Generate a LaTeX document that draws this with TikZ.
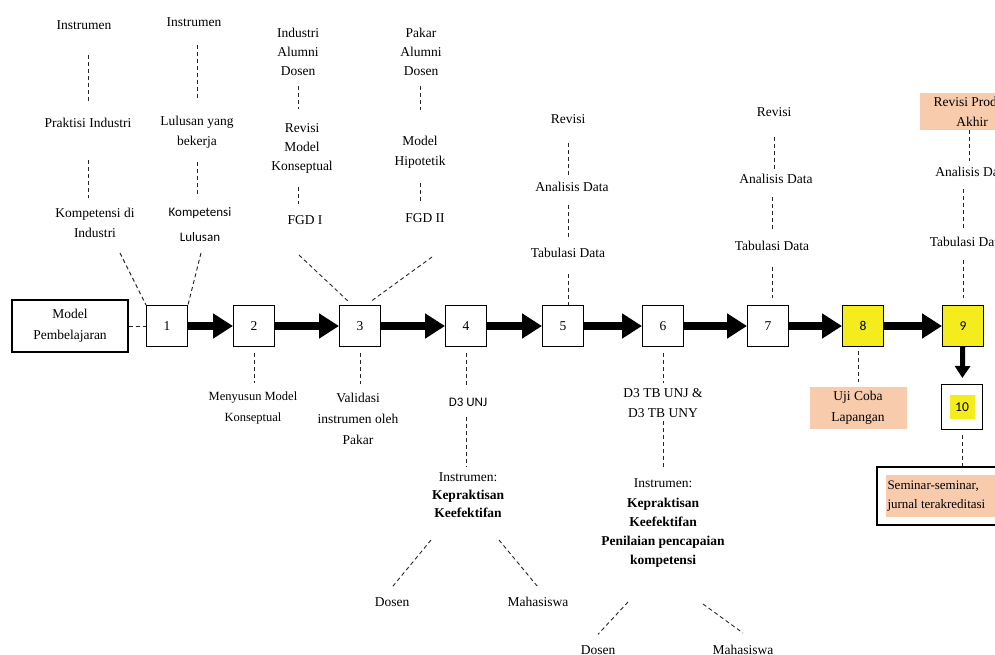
\documentclass[tikz,border=0pt]{standalone}
\usepackage{fontspec}
\setmainfont{Liberation Serif}
\newfontfamily\sansf{Carlito}
\usetikzlibrary{arrows.meta,calc}
\definecolor{peach}{RGB}{248,203,173}
\definecolor{yel}{RGB}{244,236,28}
\begin{document}
\begin{tikzpicture}[x=1pt,y=-1pt,
  txt/.style={font=\fontsize{13.5}{19}\selectfont, align=center, inner sep=1pt},
  stxt/.style={font=\sansf\fontsize{13}{25}\selectfont, align=center, inner sep=1pt},
  bx/.style={draw, line width=1pt, minimum width=41pt, minimum height=41pt, inner sep=0pt, font=\fontsize{13.5}{16}\selectfont},
  dl/.style={draw=black!85, line width=0.9pt, dash pattern=on 4pt off 3pt},
  bigarr/.style={line width=8pt, -{Triangle[length=20pt,width=24pt]}},
  smallarr/.style={line width=5pt, -{Triangle[length=12pt,width=15pt]}}]
\useasboundingbox (0,0) rectangle (995,655);
\clip (0,0) rectangle (995,655);

% main row
\node[draw, line width=1.1pt, minimum width=116pt, minimum height=52pt, txt, font=\fontsize{13.5}{21}\selectfont] (mp) at (70,326) {Model\\Pembelajaran};
\node[bx] (b1) at (167,326) {1};
\node[bx] (b2) at (254,326) {2};
\node[bx] (b3) at (360,326) {3};
\node[bx] (b4) at (466,326) {4};
\node[bx] (b5) at (563,326) {5};
\node[bx] (b6) at (663,326) {6};
\node[bx] (b7) at (768,326) {7};
\node[bx, fill=yel, font=\sansf\fontsize{13.5}{16}\selectfont] (b8) at (863,326) {8};
\node[bx, fill=yel, font=\sansf\fontsize{13.5}{16}\selectfont] (b9) at (963,326) {9};
\node[bx, minimum height=45pt, font=\sansf\fontsize{13.5}{16}\selectfont] (b10) at (962,407) {\setlength{\fboxsep}{0pt}\colorbox{yel}{\parbox[c][24pt][c]{25pt}{\centering 10}}};

\draw[dl] (mp) -- (b1);
\draw[bigarr] (b1) -- (b2);
\draw[bigarr] (b2) -- (b3);
\draw[bigarr] (b3) -- (b4);
\draw[bigarr] (b4) -- (b5);
\draw[bigarr] (b5) -- (b6);
\draw[bigarr] (b6) -- (b7);
\draw[bigarr] (b7) -- (b8);
\draw[bigarr] (b8) -- (b9);
\draw[smallarr, shorten >=6pt] (b9) -- (b10);

% column A
\node[txt] (A1) at (84,25) {Instrumen};
\node[txt] (A2) at (88,123) {Praktisi Industri};
\node[txt, font=\fontsize{13.5}{20}\selectfont] (A3) at (95,223) {Kompetensi di\\Industri};
\coordinate (A3end) at (120,253);
\draw[dl, shorten <=24pt, shorten >=14pt] (A2.north |- A1.south) -- (A2.north);
\draw[dl, shorten <=31pt, shorten >=9pt] (A2.south) -- (A2.south |- A3.north);
\draw[dl] (A3end) -- (b1.north west);

% column B
\node[txt] (B1) at (194,22) {Instrumen};
\node[txt, font=\fontsize{13.5}{20}\selectfont] (B2) at (197,132) {Lulusan yang\\bekerja};
\node[stxt] (B3) at (200,224.5) {Kompetensi\\Lulusan};
\coordinate (B3end) at (201,253);
\draw[dl, shorten <=17pt, shorten >=15pt] (B2.north |- B1.south) -- (B2.north);
\draw[dl, shorten <=13pt, shorten >=10pt] (B2.south) -- (B2.south |- B3.north);
\draw[dl] (B3end) -- (b1.north east);

% column C
\node[txt] (C1) at (298,51.5) {Industri\\Alumni\\Dosen};
\node[txt] (C2) at (302,148.5) {Revisi\\Model\\Konseptual};
\node[txt] (C3) at (305,220) {FGD I};
\coordinate (C3end) at (299,255);
\draw[dl, shorten <=10pt, shorten >=13pt] (C1.south) -- (C1.south |- C2.north);
\draw[dl, shorten <=12pt, shorten >=10pt] (C1.south |- C2.south) -- (C1.south |- C3.north);
\draw[dl] (C3end) -- ([xshift=10pt,yshift=3pt]b3.north west);

% column D
\node[txt] (D1) at (421,51.5) {Pakar\\Alumni\\Dosen};
\node[txt, font=\fontsize{13.5}{20}\selectfont] (D2) at (420,152) {Model\\Hipotetik};
\node[txt] (D3) at (425,218) {FGD II};
\coordinate (D3end) at (432,257);
\draw[dl, shorten <=10pt, shorten >=25pt] (D2.north |- D1.south) -- (D2.north);
\draw[dl, shorten <=14pt, shorten >=8pt] (D2.south) -- (D2.south |- D3.north);
\draw[dl] (D3end) -- ([xshift=-11pt,yshift=3pt]b3.north east);

% column E
\node[txt] (E1) at (568,119) {Revisi};
\node[txt] (E2) at (572,187) {Analisis Data};
\node[txt] (E3) at (568,253) {Tabulasi Data};
\draw[dl, shorten <=18pt, shorten >=5pt] (E1.south) -- (E1.south |- E2.north);
\draw[dl, shorten <=12pt, shorten >=9pt] (E3.north |- E2.south) -- (E3.north);
\draw[dl, shorten <=15pt] (E3.south) -- (E3.south |- b5.north);

% column F
\node[txt] (F1) at (774,112) {Revisi};
\node[txt] (F2) at (776,179) {Analisis Data};
\node[txt] (F3) at (772,246) {Tabulasi Data};
\draw[dl, shorten <=19pt, shorten >=4pt] (F1.south) -- (F1.south |- F2.north);
\draw[dl, shorten <=12pt, shorten >=9pt] (F3.north |- F2.south) -- (F3.north);
\draw[dl, shorten <=15pt, shorten >=7pt] (F3.south) -- (F3.south |- b7.north);

% column G
\node[txt, fill=peach, inner sep=0pt, minimum width=105pt, minimum height=37pt, font=\fontsize{13.5}{20}\selectfont] (G1) at (972,111.5) {Revisi Produk\\Akhir};
\node[txt] (G2) at (972,172) {Analisis Data};
\node[txt] (G3) at (967,242) {Tabulasi Data};
\draw[dl, shorten >=5pt] ([xshift=-3pt]G1.south) -- ([xshift=-3pt]G1.south |- G2.north);
\draw[dl, shorten <=11pt, shorten >=8pt] (b9.north |- G2.south) -- (b9.north |- G3.north);
\draw[dl, shorten <=12pt, shorten >=7pt] (b9.north |- G3.south) -- (b9.north);

% below box 2 and 3
\node[txt, font=\fontsize{12.5}{21}\selectfont] (H1) at (253,407.5) {Menyusun Model\\Konseptual};
\draw[dl, shorten <=6pt, shorten >=7pt] (b2.south) -- (b2.south |- H1.north);
\node[txt, font=\fontsize{13.5}{21}\selectfont] (I1) at (358,419) {Validasi\\instrumen oleh\\Pakar};
\draw[dl, shorten <=6pt, shorten >=8pt] (b3.south) -- (b3.south |- I1.north);

% below box 4
\node[stxt] (J1) at (468,402) {D3 UNJ};
\node[txt, font=\fontsize{13.5}{18}\selectfont] (J2) at (468,495) {Instrumen:\\\textbf{Kepraktisan}\\\textbf{Keefektifan}};
\node[txt] (J3) at (392,602) {Dosen};
\node[txt] (J4) at (538,602) {Mahasiswa};
\coordinate (J2l) at (431,540);
\coordinate (J2r) at (499,540);
\draw[dl, shorten <=6pt, shorten >=12pt] (b4.south) -- (b4.south |- J1.north);
\draw[dl, shorten <=10pt, shorten >=4pt] (b4.south |- J1.south) -- (b4.south |- J2.north);
\draw[dl] (J2l) -- ([yshift=9pt]J3.north);
\draw[dl] (J2r) -- ([yshift=9pt]J4.north);

% below box 6
\node[txt, font=\fontsize{13.5}{20}\selectfont] (K1) at (663,403) {D3 TB UNJ \&\\D3 TB UNY};
\node[txt, font=\fontsize{13.5}{19.25}\selectfont] (K2) at (663,523.5) {Instrumen:\\\textbf{Kepraktisan}\\\textbf{Keefektifan}\\\textbf{Penilaian pencapaian}\\\textbf{kompetensi}};
\node[txt] (K3) at (598,650) {Dosen};
\node[txt] (K4) at (743,650) {Mahasiswa};
\coordinate (K2l) at (628,602);
\coordinate (K2r) at (703,604);
\draw[dl, shorten <=6pt, shorten >=4pt] (b6.south) -- (K1.north);
\draw[dl, shorten <=2pt, shorten >=11pt] (K1.south) -- (K2.north);
\draw[dl] (K2l) -- ([yshift=10pt]K3.north);
\draw[dl] (K2r) -- ([yshift=11pt]K4.north);

% below box 8
\node[txt, fill=peach, inner sep=0pt, minimum width=97pt, minimum height=42pt, font=\fontsize{13.5}{21}\selectfont] (L1) at (858,408) {Uji Coba\\Lapangan};
\draw[dl, shorten <=4pt, shorten >=5pt] (L1.north |- b8.south) -- (L1.north);

% below box 10
\node[draw, line width=1.1pt, minimum width=123pt, minimum height=58pt, inner sep=0pt] (M1) at (938.5,496) {\hspace*{6pt}\setlength{\fboxsep}{0pt}\colorbox{peach}{\parbox[c][42pt][c]{112pt}{\raggedright\leftskip=2pt\fontsize{13}{19}\selectfont Seminar-seminar,\\jurnal terakreditasi}}};
\draw[dl, shorten <=5pt] (b10.south) -- (b10.south |- M1.north);
\end{tikzpicture}
\end{document}
